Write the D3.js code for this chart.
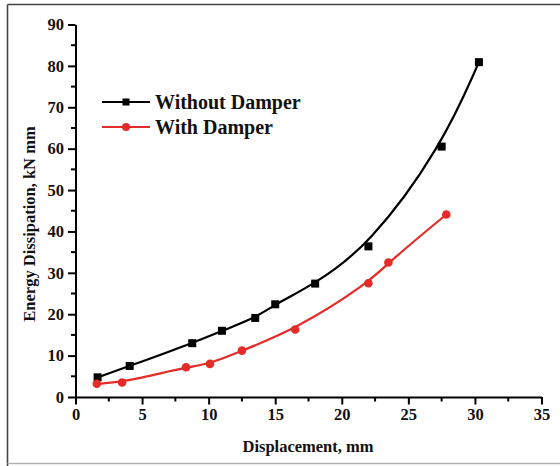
<!DOCTYPE html>
<html>
<head>
<meta charset="utf-8">
<script src="https://cdn.jsdelivr.net/npm/d3@7"></script>
<style>
  html, body { margin: 0; padding: 0; background: #fff; }
  svg { display: block; }
  text { font-family: "Liberation Serif", "Times New Roman", serif; font-weight: bold; fill: #111; }
</style>
</head>
<body>
<svg id="chart" width="560" height="466"></svg>
<script>
// Energy dissipation vs displacement, with and without damper
const withoutDisp = [1.66, 4.07, 8.77, 11.0, 13.5, 15.0, 18.0, 22.0, 27.5, 30.3];
const withoutEnergy = [4.75, 7.5, 13.0, 16.0, 19.1, 22.4, 27.4, 36.4, 60.5, 80.9];
const withDisp = [1.6, 3.5, 8.3, 10.1, 12.5, 16.5, 22.0, 23.5, 27.85];
const withEnergy = [3.2, 3.5, 7.2, 8.0, 11.2, 16.3, 27.5, 32.5, 44.1];
const xTicks = [0, 5, 10, 15, 20, 25, 30, 35];
const yTicks = [0, 10, 20, 30, 40, 50, 60, 70, 80, 90];
const seriesNames = ["Without Damper", "With Damper"];
const seriesColors = ["#000000", "#e32b27"];

const svg = d3.select("#chart");

// outer frame lines
svg.append("line").attr("x1", 7.5).attr("x2", 560).attr("y1", 4.5).attr("y2", 4.5)
  .attr("stroke", "#444").attr("stroke-width", 1.6);
svg.append("line").attr("x1", 7.5).attr("x2", 7.5).attr("y1", 4.5).attr("y2", 466)
  .attr("stroke", "#444").attr("stroke-width", 1.6);
svg.append("line").attr("x1", 7.5).attr("x2", 560).attr("y1", 463.5).attr("y2", 463.5)
  .attr("stroke", "#b0b0b0").attr("stroke-width", 1.5);

const x = d3.scaleLinear().domain([0, 35]).range([75.5, 541.5]);
const y = d3.scaleLinear().domain([0, 90]).range([397, 24.5]);

const axisW = 2;

// minor ticks
const xMinor = d3.range(2.5, 35, 5);
const yMinor = d3.range(5, 90, 10);
svg.append("g").selectAll("line").data(xMinor).join("line")
  .attr("x1", d => x(d)).attr("x2", d => x(d)).attr("y1", y(0)).attr("y2", y(0) + 4.5)
  .attr("stroke", "#000").attr("stroke-width", axisW);
svg.append("g").selectAll("line").data(yMinor).join("line")
  .attr("x1", x(0)).attr("x2", x(0) - 4.5).attr("y1", d => y(d)).attr("y2", d => y(d))
  .attr("stroke", "#000").attr("stroke-width", axisW);

// x axis
const gx = svg.append("g").attr("transform", `translate(0,${y(0)})`)
  .call(d3.axisBottom(x).tickValues(xTicks).tickSize(7.5).tickPadding(4).tickSizeOuter(0));
gx.select(".domain").attr("stroke-width", axisW).attr("stroke", "#000");
gx.selectAll(".tick line").attr("stroke-width", axisW).attr("stroke", "#000");
gx.selectAll(".tick text").style("font-size", "16.5px").style("font-family", "Liberation Serif")
  .style("font-weight", "bold").attr("fill", "#111");

// y axis
const gy = svg.append("g").attr("transform", `translate(${x(0)},0)`)
  .call(d3.axisLeft(y).tickValues(yTicks).tickSize(7.5).tickPadding(4).tickSizeOuter(0));
gy.select(".domain").attr("stroke-width", axisW).attr("stroke", "#000");
gy.selectAll(".tick line").attr("stroke-width", axisW).attr("stroke", "#000");
gy.selectAll(".tick text").style("font-size", "16.5px").style("font-family", "Liberation Serif")
  .style("font-weight", "bold").attr("fill", "#111");

// axis titles
svg.append("text").attr("x", 308).attr("y", 452).attr("text-anchor", "middle")
  .style("font-size", "16.5px").text("Displacement, mm");
svg.append("text").attr("transform", "translate(35,224) rotate(-90)").attr("text-anchor", "middle")
  .style("font-size", "16.5px").text("Energy Dissipation, kN mm");

// series
const line = d3.line().x(d => x(d[0])).y(d => y(d[1])).curve(d3.curveBasis);
const s1 = d3.zip(withoutDisp, withoutEnergy);
const s2 = d3.zip(withDisp, withEnergy);

svg.append("path").datum(s1).attr("d", line).attr("fill", "none")
  .attr("stroke", seriesColors[0]).attr("stroke-width", 2.2);
svg.append("path").datum(s2).attr("d", line).attr("fill", "none")
  .attr("stroke", seriesColors[1]).attr("stroke-width", 2.2);

const sq = 8;
svg.append("g").selectAll("rect").data(s1).join("rect")
  .attr("x", d => x(d[0]) - sq / 2).attr("y", d => y(d[1]) - sq / 2)
  .attr("width", sq).attr("height", sq).attr("fill", seriesColors[0]);
svg.append("g").selectAll("circle").data(s2).join("circle")
  .attr("cx", d => x(d[0])).attr("cy", d => y(d[1])).attr("r", 4.3)
  .attr("fill", seriesColors[1]);

// legend
const leg = svg.append("g");
const rows = [102, 127];
rows.forEach((ry, i) => {
  leg.append("line").attr("x1", 102).attr("x2", 150).attr("y1", ry).attr("y2", ry)
    .attr("stroke", seriesColors[i]).attr("stroke-width", 2.2);
  if (i === 0) {
    leg.append("rect").attr("x", 126 - 3.5).attr("y", ry - 3.5).attr("width", 7).attr("height", 7)
      .attr("fill", seriesColors[i]);
  } else {
    leg.append("circle").attr("cx", 126).attr("cy", ry).attr("r", 4).attr("fill", seriesColors[i]);
  }
  leg.append("text").attr("x", 155).attr("y", ry).attr("dy", "0.35em")
    .style("font-size", "20px").text(seriesNames[i]);
});
</script>
</body>
</html>
